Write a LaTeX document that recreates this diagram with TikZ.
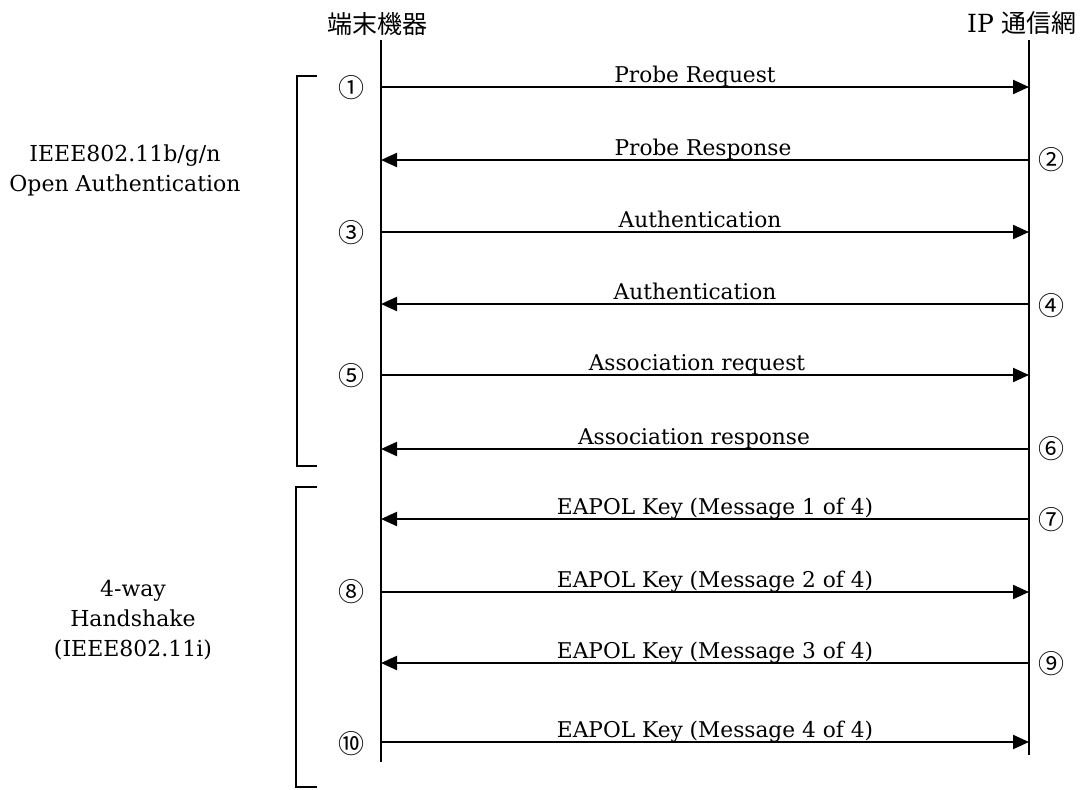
\documentclass[tikz,border=0pt]{standalone}
\usepackage{fontspec}
\setmainfont{DejaVu Serif}
\newfontfamily\jp{Noto Sans CJK JP}
\usetikzlibrary{arrows.meta}
\begin{document}
\begin{tikzpicture}[x=1pt,y=-1pt,
  life/.style={line width=2.2pt},
  msg/.style={line width=2.2pt,-{Triangle[length=16pt,width=14pt]}},
  lbl/.style={font=\fontsize{21.7}{24}\selectfont, anchor=base, inner sep=0pt},
  num/.style={font=\jp\fontsize{26}{28}\selectfont, inner sep=0pt},
  brk/.style={line width=2.2pt},
  side/.style={font=\fontsize{22}{30}\selectfont, align=center},
  ttl/.style={font=\jp\fontsize{25}{27}\selectfont, inner sep=0pt}]
\useasboundingbox (0,0) rectangle (1088,790);

% titles
\node[ttl] (tL) at (377,24) {端末機器};
\node[ttl] (tR) at (1022,23) {{\rmfamily\fontsize{25}{27}\selectfont IP }通信網};

% lifelines
\coordinate (Ltop) at (381,40);
\coordinate (Lbot) at (381,762);
\coordinate (Rtop) at (1029,40);
\coordinate (Rbot) at (1029,755);
\draw[life] (Ltop) -- (Lbot);
\draw[life] (Rtop) -- (Rbot);

% message end points
\foreach \i/\y in {1/87,2/160,3/232,4/304,5/375,6/449,7/519,8/592,9/663,10/742}{
  \coordinate (L\i) at (381,\y);
  \coordinate (R\i) at (1029,\y);
}

% messages
\draw[msg] (L1) -- (R1);
\node[lbl] (m1) at (695,82) {Probe Request};
\node[num] (n1) at (351,88) {①};

\draw[msg] (R2) -- (L2);
\node[lbl] (m2) at (703,155) {Probe Response};
\node[num] (n2) at (1051,160) {②};

\draw[msg] (L3) -- (R3);
\node[lbl] (m3) at (700,227) {Authentication};
\node[num] (n3) at (351,233) {③};

\draw[msg] (R4) -- (L4);
\node[lbl] (m4) at (695,299) {Authentication};
\node[num] (n4) at (1051,306) {④};

\draw[msg] (L5) -- (R5);
\node[lbl] (m5) at (697,370) {Association request};
\node[num] (n5) at (351,376) {⑤};

\draw[msg] (R6) -- (L6);
\node[lbl] (m6) at (694,444) {Association response};
\node[num] (n6) at (1051,449) {⑥};

\draw[msg] (R7) -- (L7);
\node[lbl] (m7) at (715,514) {EAPOL Key (Message 1 of 4)};
\node[num] (n7) at (1051,520) {⑦};

\draw[msg] (L8) -- (R8);
\node[lbl] (m8) at (715,587) {EAPOL Key (Message 2 of 4)};
\node[num] (n8) at (351,592) {⑧};

\draw[msg] (R9) -- (L9);
\node[lbl] (m9) at (715,658) {EAPOL Key (Message 3 of 4)};
\node[num] (n9) at (1051,664) {⑨};

\draw[msg] (L10) -- (R10);
\node[lbl] (m10) at (715,737) {EAPOL Key (Message 4 of 4)};
\node[num] (n10) at (351,744) {⑩};

% brackets
\coordinate (b1a) at (317,76);
\coordinate (b1b) at (297,76);
\coordinate (b1c) at (297,466);
\coordinate (b1d) at (317,466);
\draw[brk] (b1a) -- (b1b) -- (b1c) -- (b1d);
\coordinate (b2a) at (317,487);
\coordinate (b2b) at (296,487);
\coordinate (b2c) at (296,787);
\coordinate (b2d) at (317,787);
\draw[brk] (b2a) -- (b2b) -- (b2c) -- (b2d);

% side labels
\node[side] (g1) at (125,170) {IEEE802.11b/g/n\\Open Authentication};
\node[side] (g2) at (133,620) {4-way\\Handshake\\(IEEE802.11i)};
\end{tikzpicture}
\end{document}
